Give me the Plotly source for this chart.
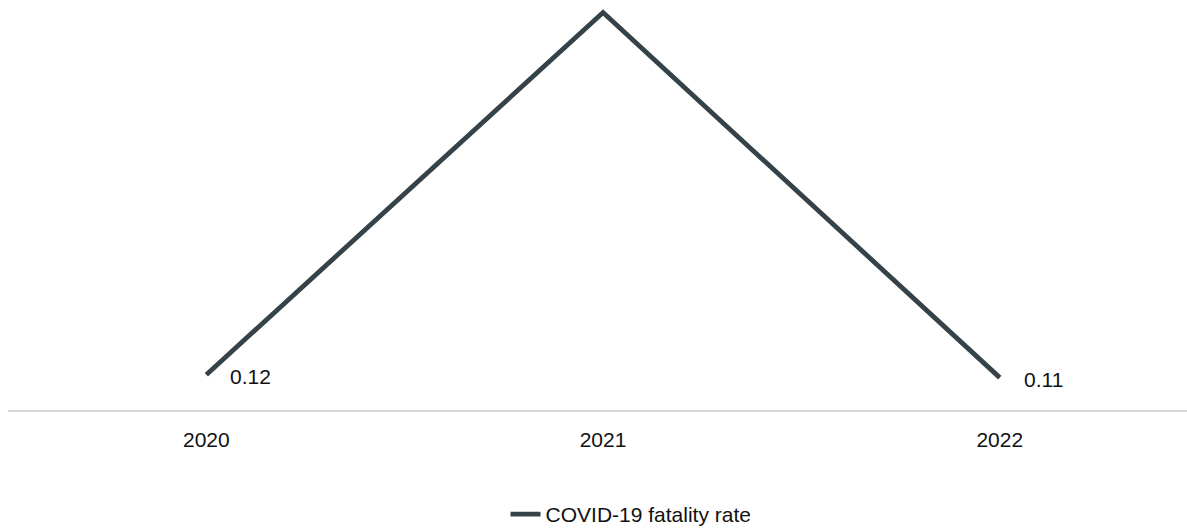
import plotly.graph_objects as go

# Annual COVID-19 fatality rate
years = [2020, 2021, 2022]
fatality_rate = [0.12, 1.35, 0.11]
# Values printed next to the points (2021 carries no label)
label_text = ["0.12", "", "0.11"]

series_name = "COVID-19 fatality rate"
line_color = "#36424a"
text_color = "#111111"
font_family = "Liberation Sans, Arial, sans-serif"

fig = go.Figure()
fig.add_trace(
    go.Scatter(
        x=years,
        y=fatality_rate,
        mode="lines",
        name=series_name,
        line=dict(color=line_color, width=4.8),
        hoverinfo="x+y",
    )
)

for x, y, t in zip(years, fatality_rate, label_text):
    if t:
        fig.add_annotation(
            x=x, y=y, xref="x", yref="y",
            text=t, showarrow=False,
            xanchor="left", yanchor="middle",
            xshift=22, yshift=-2,
            font=dict(size=21, color=text_color, family=font_family),
        )

fig.update_layout(
    width=1187,
    height=529,
    margin=dict(l=8, r=0, t=0, b=119, autoexpand=False),
    paper_bgcolor="white",
    plot_bgcolor="white",
    font=dict(family=font_family, size=21, color=text_color),
    showlegend=True,
    legend=dict(
        orientation="h",
        x=0.422, xanchor="left",
        y=-0.255, yanchor="middle",
        font=dict(size=21, color=text_color),
        itemwidth=30,
    ),
    xaxis=dict(
        range=[years[0] - 0.5, years[-1] + 0.472],
        tickmode="array",
        tickvals=years,
        ticktext=[str(y) for y in years],
        showgrid=False,
        zeroline=False,
        showline=True,
        linecolor="#d9d9d9",
        linewidth=2,
        ticks="",
        ticklabelstandoff=10,
        tickfont=dict(size=21, color=text_color),
    ),
    yaxis=dict(
        range=[0, 1.3926],
        visible=False,
        showgrid=False,
        zeroline=False,
    ),
)

fig.write_html("out.html")
